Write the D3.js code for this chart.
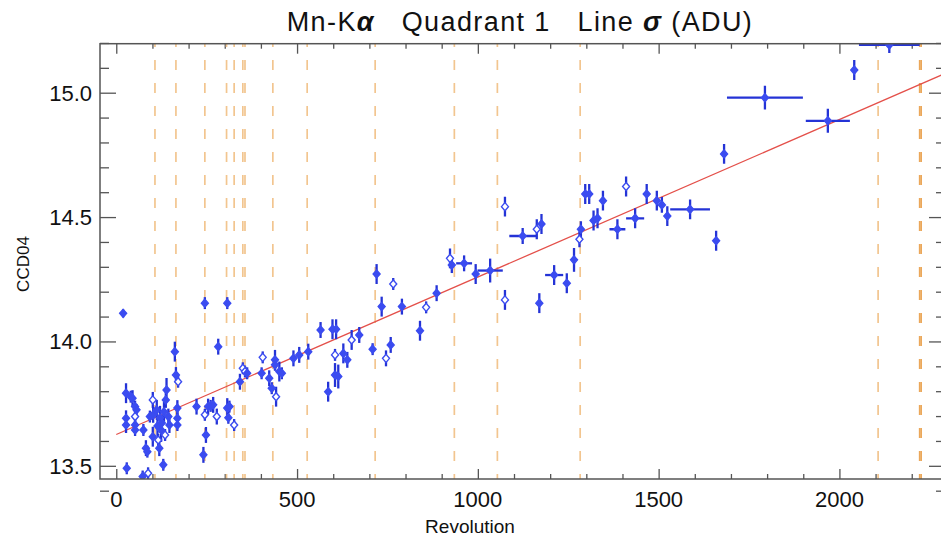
<!DOCTYPE html>
<html><head><meta charset="utf-8">
<script src="https://cdn.jsdelivr.net/npm/d3@7"></script>
<style>body{margin:0;background:#fff}svg{display:block}text{font-family:"Liberation Sans",Arial,sans-serif}</style>
</head><body><svg id="c" width="941" height="537"></svg>
<script>
// ---- data ----
const revolutions = [19,27,27,27,29,40,45,52,56,52,52,52,75,82,86,73,88,93,101,102,101,112,114,116,119,121,124,126,130,132,135,137,139,144,147,162,165,171,169,169,169,222,241,248,245,245,254,261,268,278,282,307,307,310,313,326,342,350,356,362,402,405,423,430,442,439,439,451,458,490,506,531,565,598,608,605,605,614,586,628,639,651,672,709,720,734,746,759,766,790,840,857,886,923,928,962,994,1034,1075,1075,1124,1163,1176,1170,1211,1246,1266,1281,1285,1297,1308,1320,1331,1346,1386,1410,1435,1467,1495,1509,1524,1587,1659,1681,1794,1968,2041,2138];
const sigmas = [14.113,13.792,13.691,13.664,13.490,13.778,13.772,13.738,13.725,13.698,13.664,13.644,13.644,13.571,13.557,13.457,13.470,13.698,13.765,13.705,13.617,13.725,13.660,13.604,13.571,13.693,13.644,13.672,13.504,13.717,13.624,13.765,13.805,13.698,13.664,13.959,13.865,13.838,13.732,13.691,13.664,13.738,13.544,13.624,13.705,14.154,13.738,13.741,13.745,13.698,13.979,14.154,13.732,13.693,13.738,13.664,13.838,13.892,13.879,13.872,13.872,13.936,13.852,13.812,13.778,13.926,13.906,13.879,13.872,13.932,13.946,13.959,14.046,14.049,14.049,13.946,13.865,13.859,13.798,13.952,13.926,14.006,14.026,13.969,14.271,14.140,13.932,13.986,14.231,14.140,14.043,14.137,14.194,14.334,14.307,14.314,14.271,14.285,14.167,14.542,14.424,14.451,14.472,14.154,14.267,14.234,14.328,14.411,14.451,14.593,14.593,14.486,14.495,14.566,14.451,14.623,14.495,14.593,14.566,14.549,14.504,14.531,14.405,14.754,14.980,14.887,15.091,15.192];
const sigmaErrs = [0.016,0.040,0.032,0.032,0.024,0.024,0.032,0.024,0.024,0.024,0.032,0.024,0.024,0.032,0.024,0.024,0.024,0.024,0.032,0.032,0.040,0.040,0.040,0.024,0.032,0.048,0.048,0.032,0.024,0.040,0.024,0.032,0.048,0.032,0.032,0.040,0.032,0.024,0.032,0.024,0.024,0.032,0.032,0.032,0.024,0.024,0.032,0.024,0.032,0.032,0.032,0.024,0.040,0.024,0.024,0.024,0.032,0.024,0.024,0.024,0.024,0.024,0.032,0.024,0.040,0.040,0.024,0.040,0.024,0.032,0.032,0.032,0.032,0.040,0.040,0.024,0.048,0.048,0.040,0.040,0.032,0.040,0.032,0.024,0.040,0.040,0.032,0.032,0.024,0.032,0.040,0.024,0.032,0.040,0.032,0.032,0.040,0.048,0.040,0.040,0.032,0.040,0.040,0.040,0.040,0.040,0.048,0.032,0.032,0.040,0.040,0.040,0.040,0.040,0.040,0.040,0.040,0.040,0.040,0.032,0.040,0.040,0.040,0.040,0.048,0.048,0.040,0.032];
const revErrs = [5,5,5,5,5,5,5,5,5,5,5,5,5,5,5,5,5,5,5,5,5,5,5,5,5,5,5,5,5,5,5,5,5,5,5,5,5,5,5,5,5,5,5,5,5,5,5,5,5,5,5,5,5,5,5,5,5,5,5,5,5,5,5,5,5,5,5,5,5,5,5,5,5,5,5,5,5,5,5,5,5,5,5,5,5,5,5,5,5,5,5,5,5,5,5,22,5,35,5,5,37,5,5,5,25,5,5,5,5,5,5,5,5,5,22,5,25,5,5,5,5,55,5,5,105,61,5,84];
const openMarkers = [0,0,0,0,0,0,0,0,0,1,0,0,0,0,0,0,1,0,1,0,0,0,0,1,0,0,0,0,0,0,1,0,0,0,0,0,0,1,0,0,0,0,0,0,1,0,0,0,0,1,0,0,0,0,0,1,0,1,1,0,0,1,0,0,1,0,0,0,0,0,0,0,0,0,0,1,0,0,0,0,0,1,0,0,0,0,1,0,1,0,0,1,0,1,0,0,0,0,1,1,0,1,0,0,0,0,0,1,0,0,0,0,0,0,0,1,0,0,0,0,0,0,0,0,0,0,0,0];
const eventRevolutions = [107,165,245,305,326,350,356,433,528,716,935,1054,1283,2107,2222,2226];
const fitIntercept = 13.626, fitSlope = 0.000633;
const xMajorTicks = [0,500,1000,1500,2000];
const yMajorTicks = [13.5,14.0,14.5,15.0];
const titleParts = [["Mn-K",""],["α","g"],["   Quadrant 1   Line ",""],["σ","g"],[" (ADU)",""]];
const xLabel = "Revolution", yLabel = "CCD04";

// ---- layout ----
const L=100, R=945, T=43.7, B=479;
const svg = d3.select("#c");
const x = d3.scaleLinear().domain([-45,2292]).range([L,R]);
const y = d3.scaleLinear().domain([13.447,15.197]).range([B,T]);
const xMinor = d3.range(0,2300,100).filter(v=>v%500!==0);
const yMinor = d3.range(134,153).map(v=>v/10).filter(v=>Math.round(v*10)%5!==0);

svg.append("clipPath").attr("id","clip").append("rect").attr("x",L).attr("y",T).attr("width",R-L).attr("height",B-T);

const axCol="#555";
function styleAxis(g){g.select(".domain").remove();g.selectAll("line").attr("stroke",axCol).attr("stroke-width",1.3);g.selectAll("text").remove();}
svg.append("g").attr("transform",`translate(0,${B})`).call(d3.axisBottom(x).tickValues(xMajorTicks).tickSize(-10).tickSizeOuter(0)).call(styleAxis);
svg.append("g").attr("transform",`translate(0,${B})`).call(d3.axisBottom(x).tickValues(xMinor).tickSize(-5).tickSizeOuter(0)).call(styleAxis);
svg.append("g").attr("transform",`translate(0,${T})`).call(d3.axisTop(x).tickValues(xMajorTicks).tickSize(-10).tickSizeOuter(0)).call(styleAxis);
svg.append("g").attr("transform",`translate(0,${T})`).call(d3.axisTop(x).tickValues(xMinor).tickSize(-5).tickSizeOuter(0)).call(styleAxis);
svg.append("g").attr("transform",`translate(${L},0)`).call(d3.axisLeft(y).tickValues(yMajorTicks).tickSize(-16).tickSizeOuter(0)).call(styleAxis);
svg.append("g").attr("transform",`translate(${L},0)`).call(d3.axisLeft(y).tickValues(yMinor).tickSize(-9).tickSizeOuter(0)).call(styleAxis);
svg.append("g").attr("transform",`translate(${R},0)`).call(d3.axisRight(y).tickValues(yMajorTicks).tickSize(-16).tickSizeOuter(0)).call(styleAxis);
svg.append("g").attr("transform",`translate(${R},0)`).call(d3.axisRight(y).tickValues(yMinor).tickSize(-9).tickSizeOuter(0)).call(styleAxis);

// tick labels
svg.append("g").selectAll("text").data(xMajorTicks).join("text")
  .attr("x",d=>x(d)).attr("y",507).attr("text-anchor","middle").attr("font-size",22).attr("fill","#111").text(d=>d);
svg.append("g").selectAll("text").data(yMajorTicks).join("text")
  .attr("x",92).attr("y",d=>y(d)+8).attr("text-anchor","end").attr("font-size",22).attr("fill","#111").text(d=>d.toFixed(1));

// event lines
const plot = svg.append("g").attr("clip-path","url(#clip)");
plot.selectAll("line.ev").data(eventRevolutions).join("line").attr("class","ev")
  .attr("x1",d=>x(d)).attr("x2",d=>x(d)).attr("y1",T).attr("y2",B)
  .attr("stroke",(d,i)=>i>=14?"#eba75a":"#f2c58f").attr("stroke-width",1.7)
  .attr("stroke-dasharray","10,13").attr("stroke-dashoffset",6.7);

// fit line
plot.append("line").attr("x1",x(0)).attr("x2",x(2292)).attr("y1",y(fitIntercept)).attr("y2",y(fitIntercept+fitSlope*2292))
  .attr("stroke","#e4504a").attr("stroke-width",1.3);

// points
const pts = revolutions.map((r,i)=>({r,s:sigmas[i],se:sigmaErrs[i],re:revErrs[i],o:openMarkers[i]}));
const eb = plot.append("g").attr("stroke","#2433d6").attr("stroke-width",2.3);
eb.selectAll("line.v").data(pts).join("line").attr("class","v")
  .attr("x1",d=>x(d.r)).attr("x2",d=>x(d.r)).attr("y1",d=>y(d.s-d.se)).attr("y2",d=>y(d.s+d.se));
eb.selectAll("line.h").data(pts).join("line").attr("class","h")
  .attr("x1",d=>x(d.r-d.re)).attr("x2",d=>x(d.r+d.re)).attr("y1",d=>y(d.s)).attr("y2",d=>y(d.s));
plot.append("g").selectAll("path").data(pts).join("path")
  .attr("transform",d=>`translate(${x(d.r)},${y(d.s)})`)
  .attr("d","M0,-4L3.5,0L0,4L-3.5,0Z")
  .attr("fill",d=>d.o?"#fff":"#3b4cf0").attr("stroke","#3b4cf0").attr("stroke-width",1.4);

// frame
svg.append("rect").attr("x",L).attr("y",T).attr("width",R-L).attr("height",B-T).attr("fill","none").attr("stroke",axCol).attr("stroke-width",1.5);

// titles
const tt = svg.append("text").attr("x",520).attr("y",31).attr("text-anchor","middle").attr("font-size",27).attr("letter-spacing",1.4).attr("fill","#111").attr("xml:space","preserve").style("white-space","pre");
titleParts.forEach(([t,k])=>{const s=tt.append("tspan").text(t); if(k==="g"){s.attr("font-weight","bold").attr("font-style","italic");}});
svg.append("text").attr("x",470).attr("y",533).attr("text-anchor","middle").attr("font-size",19).attr("fill","#111").text(xLabel);
svg.append("text").attr("transform","translate(29,264) rotate(-90)").attr("text-anchor","middle").attr("font-size",17).attr("fill","#111").text(yLabel);
</script></body></html>
